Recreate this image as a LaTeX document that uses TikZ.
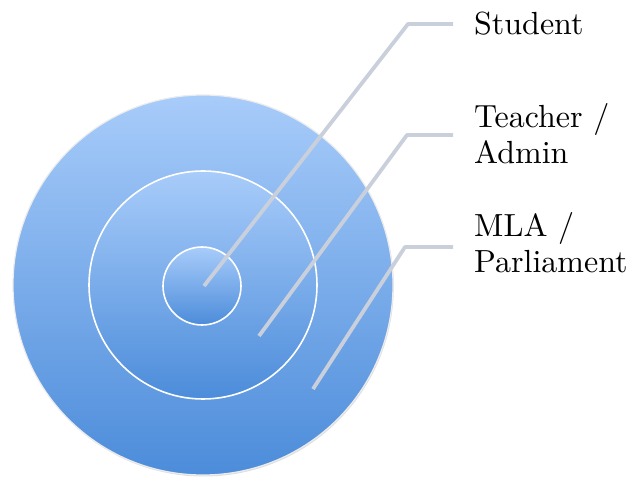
\documentclass[tikz,border=0pt]{standalone}
\usepackage{fontspec}
\setmainfont{lmroman10-regular.otf}
\usetikzlibrary{shadows}
\definecolor{ringtop}{HTML}{A8CCFA}
\definecolor{ringbot}{HTML}{4C8CDA}
\definecolor{leader}{HTML}{C9D0DC}
\tikzset{
  ring/.style={circle, inner sep=0pt, top color=ringtop, bottom color=ringbot, draw=white, line width=1.6pt},
  bigring/.style={circle, inner sep=0pt, top color=ringtop, bottom color=ringbot, draw=white!85!gray, line width=1.2pt,
    drop shadow={shadow xshift=0.8pt, shadow yshift=-1.5pt, opacity=0.25}},
  leaderline/.style={draw=leader, line width=3.8pt, line join=round},
  lbl/.style={anchor=base west, inner sep=0pt, align=left, font=\fontsize{32}{36.5}\selectfont, text=black}
}
\begin{document}
\begin{tikzpicture}[x=1pt,y=-1pt]
  \useasboundingbox (0,0) rectangle (641,481);
  \node[bigring, minimum size=380pt] (outer) at (203,285) {};
  \node[ring, minimum size=228pt] (middle) at (203,285) {};
  \node[ring, minimum size=78pt] (inner) at (202,286) {};
  % leader start points and elbows
  \coordinate (s1) at (204,286);
  \coordinate (e1) at (408,24);
  \coordinate (s2) at (259,336);
  \coordinate (e2) at (407,135);
  \coordinate (s3) at (313,389);
  \coordinate (e3) at (405,247);
  % labels
  \node[lbl] (student) at (474,35) {Student};
  \node[lbl] (teacher) at (474,164) {Teacher /\\Admin};
  \node[lbl] (mla) at (474,273) {MLA /\\Parliament};
  % connectors
  \draw[leaderline] (s1) -- (e1) -- ([xshift=-21pt]student.base west |- e1);
  \draw[leaderline] (s2) -- (e2) -- ([xshift=-21pt]teacher.base west |- e2);
  \draw[leaderline] (s3) -- (e3) -- ([xshift=-21pt]mla.base west |- e3);
\end{tikzpicture}
\end{document}
